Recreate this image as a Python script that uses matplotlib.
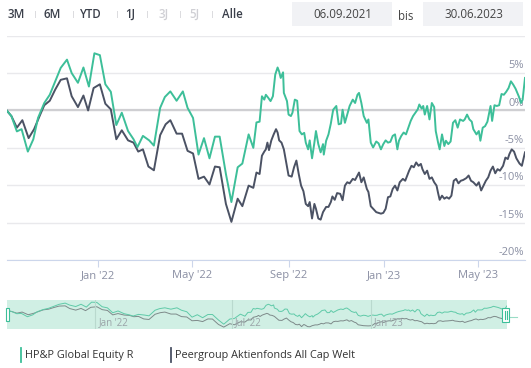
import numpy as np
import pandas as pd
import matplotlib
matplotlib.use("Agg")
import matplotlib.pyplot as plt
import matplotlib.dates as mdates
from matplotlib.patches import Rectangle
from matplotlib.lines import Line2D
from matplotlib.transforms import blended_transform_factory

plt.rcParams['font.family'] = ['Open Sans', 'DejaVu Sans']

# ---- data (performance in %, days counted from the start date) ----
start = pd.Timestamp('2021-09-06')
end = pd.Timestamp('2023-06-30')

fund_days = [0, 6, 13, 19, 27, 34, 40, 48, 55, 62, 69, 77, 83, 91, 98, 105, 112, 119, 126, 133,
             140, 147, 155, 162, 167, 174, 182, 188, 196, 202, 209, 217, 225, 231, 238, 245, 252,
             259, 266, 272, 280, 287, 295, 301, 309, 315, 319, 323, 326, 329, 331, 334, 337, 340,
             343, 346, 348, 350, 353, 354, 358, 360, 363, 365, 368, 371, 374, 377, 380, 382, 385,
             387, 390, 393, 395, 398, 401, 404, 405, 408, 411, 414, 417, 421, 424, 427, 429, 432,
             435, 438, 442, 445, 448, 450, 453, 456, 460, 462, 465, 468, 472, 475, 478, 481, 484,
             487, 490, 493, 496, 499, 501, 504, 507, 510, 513, 516, 519, 522, 525, 527, 530, 532,
             534, 537, 540, 543, 546, 548, 551, 553, 556, 559, 561, 564, 567, 570, 573, 576, 579,
             583, 585, 588, 591, 594, 596, 600, 603, 605, 608, 611, 614, 618, 620, 623, 626, 629,
             632, 635, 638, 641, 644, 647, 650, 654, 657, 659, 662]
fund_perf = [0, -0.75, -2.8, -2.5, -5.5, -3.85, -1.0, 1.0, 2.1, 3.9, 5.7, 6.8, 5.0, 3.7, 5.75, 3.2,
             7.65, 7.4, 3.5, 2.5, -1.95, -0.3, -2.75, -3.85, -4.9, -3.4, -4.0, -4.7, 0.35, 1.8,
             2.55, 1.3, 2.55, 0.35, -1.0, -5.9, -3.7, -6.4, -3.5, -3.5, -8.5, -12.25, -7.6, -7.1,
             -3.2, -5.0, -1.6, -1.5, 1.9, 1.45, 2.1, 1.7, 1.25, 1.9, 4.8, 5.75, 5.2, 4.35, 5.1,
             2.35, 1.25, -0.55, -0.75, -0.3, 1.45, 1.3, -2.75, -3.2, -3.0, -4.3, -5.2, -4.0, -6.4,
             -4.3, -2.75, -4.5, -5.6, -4.5, -5.9, -4.05, -3.2, -1.75, 0.1, 0.6, -1.85, -1.75, 0.1,
             -1.65, -0.55, 0.6, 1.45, 1.0, 2.1, 2.35, 1.0, -0.75, -1.65, -1.2, -4.3, -4.95, -4.15,
             -4.4, -5.2, -4.5, -4.0, -4.3, -4.2, -3.4, -3.2, -5.2, -4.05, -3.4, -2.95, -3.2, -2.3,
             -1.4, -0.75, -0.3, 0.15, 0.8, 0.25, 0.6, -0.55, 0.6, -1.2, 1.0, 0.45, -2.75, -4.3,
             -5.2, -3.2, -4.75, -4.05, -4.5, -4.15, -1.65, -1.3, -2.3, -1.2, -1.4, -1.2, -0.55,
             -1.2, -1.5, -2.5, -3.2, -2.75, -4.05, -2.3, -2.1, -1.5, 0.6, -1.4, 0.7, 0.6, 0.7,
             2.2, 2.1, 2.5, 3.0, 3.9, 3.45, 2.9, 1.9, 1.0, 1.45, 4.35]

peer_days = [0, 6, 13, 20, 28, 35, 43, 48, 55, 62, 69, 77, 83, 91, 98, 104, 111, 119, 126, 133,
             140, 147, 155, 162, 168, 174, 181, 188, 196, 203, 209, 217, 224, 231, 238, 245, 252,
             259, 266, 272, 280, 287, 295, 301, 309, 315, 319, 323, 326, 329, 331, 333, 335, 338,
             341, 344, 346, 348, 351, 354, 357, 360, 364, 367, 370, 373, 376, 379, 382, 385, 387,
             390, 393, 395, 398, 401, 404, 408, 411, 414, 416, 419, 422, 426, 429, 432, 435, 438,
             442, 445, 448, 450, 453, 456, 460, 462, 465, 468, 472, 475, 478, 481, 484, 487, 490,
             493, 496, 499, 502, 506, 509, 511, 514, 517, 520, 523, 526, 529, 531, 534, 537, 540,
             543, 546, 549, 551, 553, 556, 559, 562, 565, 568, 571, 574, 577, 580, 583, 587, 590,
             593, 596, 600, 603, 606, 609, 612, 615, 618, 621, 624, 627, 630, 634, 637, 640, 642,
             645, 648, 651, 655, 658, 660, 662]
peer_perf = [0, -0.75, -2.3, -1.3, -3.7, -2.5, -0.5, 0.7, 1.3, 2.8, 4.1, 4.3, 1.9, 0.45, 2.0, 0.0,
             3.0, 3.5, 0.9, 0.15, -3.85, -2.65, -4.0, -4.3, -5.5, -5.2, -7.5, -8.0, -3.3, -1.85,
             -1.3, -3.1, -3.1, -5.4, -5.75, -9.15, -8.85, -9.9, -7.5, -7.6, -12.5, -14.9, -11.8,
             -12.8, -10.05, -10.35, -8.3, -8.5, -6.05, -5.5, -5.2, -4.3, -5.3, -4.0, -3.2, -2.5,
             -2.95, -4.0, -4.3, -5.2, -6.95, -8.7, -8.85, -7.6, -6.7, -8.5, -10.05, -10.8, -12.5,
             -12.8, -12.25, -14.45, -12.5, -13.15, -14.45, -14.6, -13.6, -12.9, -12.9, -12.25,
             -11.5, -11.95, -11.05, -11.15, -12.0, -10.05, -9.6, -9.75, -9.15, -9.3, -8.7, -8.3,
             -9.6, -8.95, -10.5, -10.9, -12.8, -13.15, -13.6, -13.7, -13.8, -13.7, -13.15, -11.6,
             -11.5, -10.5, -10.05, -10.7, -9.6, -9.15, -9.4, -8.85, -8.05, -7.4, -7.6, -6.95,
             -7.4, -7.15, -7.85, -8.5, -8.05, -9.15, -8.95, -9.6, -10.05, -11.05, -11.95, -11.4,
             -11.8, -11.6, -11.8, -11.4, -9.4, -9.15, -9.75, -9.4, -9.3, -9.05, -8.7, -9.4, -9.6,
             -10.05, -9.6, -10.7, -10.05, -9.4, -8.95, -8.05, -7.5, -8.4, -7.85, -8.05, -7.4,
             -6.3, -6.5, -5.85, -5.2, -5.5, -6.4, -7.1, -7.4, -6.5, -5.6]

series_names = ['HP&P Global Equity R', 'Peergroup Aktienfonds All Cap Welt']
y_ticks = [-20, -15, -10, -5, 0, 5, 10]
y_labels = ['-20%', '-15%', '-10%', '-5%', '0%', '5%', '']
x_ticks = ['2022-01-01', '2022-05-01', '2022-09-01', '2023-01-01', '2023-05-01']
x_labels = ["Jan '22", "May '22", "Sep '22", "Jan '23", "May '23"]
nav_ticks = ['2022-01-01', '2022-07-01', '2023-01-01']
nav_labels = ["Jan '22", "Jul '22", "Jan '23"]
buttons = ['3M', '6M', 'YTD', '1J', '3J', '5J', 'Alle']
disabled = ['3J', '5J']
date_from = '06.09.2021'
date_to = '30.06.2023'

GREEN = '#3dbf99'
DARK = '#4b5264'
W, H = 531, 368

fund_dates = start + pd.to_timedelta(fund_days, unit='D')
peer_dates = start + pd.to_timedelta(peer_days, unit='D')


def fx(px):
    return px / W


def fy(py):
    return 1 - py / H


fig = plt.figure(figsize=(W / 100, H / 100), dpi=100)

# ---- main chart ----
ax = fig.add_axes([fx(6.7), fy(260), fx(525) - fx(6.7), fy(35.7) - fy(260)])
ax.plot(peer_dates, peer_perf, color=DARK, lw=1.4, zorder=3)
ax.plot(fund_dates, fund_perf, color=GREEN, lw=1.4, zorder=4)
ax.set_xlim(start, end)
ax.set_ylim(-20, 10)
ax.set_yticks(y_ticks)
ax.grid(axis='y', color='#e9e9ec', lw=1)
ax.axhline(0, color='#cfcfd2', lw=1.6, zorder=2)
ax.tick_params(axis='y', left=False, labelleft=False)
for s in ['top', 'left', 'right']:
    ax.spines[s].set_visible(False)
ax.spines['bottom'].set_color('#ccd6eb')
ax.set_xticks(pd.to_datetime(x_ticks))
ax.set_xticklabels(x_labels)
ax.tick_params(axis='x', length=5, color='#ccd6eb', labelsize=8, labelcolor='#8a8fa3', pad=2.5)
tr = blended_transform_factory(ax.transAxes, ax.transData)
for v, lab in zip(y_ticks, y_labels):
    ax.text(0.998, v + 0.25, lab, transform=tr, ha='right', va='bottom',
            fontsize=8, color='#8a8fa3')

# ---- navigator ----
nav = fig.add_axes([fx(7), fy(329), fx(507) - fx(7), fy(300) - fy(329)])
nav.set_facecolor('#d0efe4')
nav.plot(peer_dates, peer_perf, color='#7e8a8a', lw=0.7)
nav.plot(fund_dates, fund_perf, color='#5fcaa8', lw=0.7)
nav.set_xlim(start, end)
nav.set_ylim(-16.6, 9.6)
nav.set_xticks([])
nav.set_yticks([])
for s in nav.spines.values():
    s.set_visible(False)
ntr = blended_transform_factory(nav.transData, nav.transAxes)
for d, lab in zip(pd.to_datetime(nav_ticks), nav_labels):
    nav.axvline(d, color='#b9d9ce', lw=0.8)
    nav.text(mdates.date2num(d) + 4, 0.22, lab, transform=ntr, fontsize=7,
             color='#9aa3a8', ha='left', va='center')

# handles
fig.patches.append(Rectangle((fx(6), fy(321)), fx(3), fy(308) - fy(321), transform=fig.transFigure,
                             facecolor='white', edgecolor=GREEN, lw=0.8, zorder=5))
fig.patches.append(Rectangle((fx(502), fy(322)), fx(7), fy(308) - fy(322), transform=fig.transFigure,
                             facecolor='white', edgecolor=GREEN, lw=0.8, zorder=5))
for px in [504.5, 506.5]:
    fig.lines.append(Line2D([fx(px), fx(px)], [fy(319), fy(311)], transform=fig.transFigure,
                            color=GREEN, lw=0.8, zorder=6))
fig.lines.append(Line2D([fx(510), fx(517)], [fy(317), fy(317)], transform=fig.transFigure,
                        color='#9adcc6', lw=0.8))

# ---- legend ----
for bx, col, name in [(21, GREEN, series_names[0]), (171, DARK, series_names[1])]:
    fig.lines.append(Line2D([fx(bx), fx(bx)], [fy(362), fy(348)], transform=fig.transFigure,
                            color=col, lw=1.3))
    fig.text(fx(bx + 4), fy(355.5), name, fontsize=7.8, color='#333333', ha='left', va='center')

# ---- range selector buttons ----
btn_x = [8, 44, 80, 125, 159, 189, 222]
sep_x = [35, 73, 117, 147, 180, 212]
for bx, b in zip(btn_x, buttons):
    fig.text(fx(bx), fy(14), b, fontsize=8.3, fontweight='semibold', ha='left', va='center',
             color='#cfcfd4' if b in disabled else '#3a3f4a')
for sx in sep_x:
    fig.text(fx(sx), fy(14), '|', fontsize=6, ha='center', va='center', color='#c8c8cc')

# ---- date inputs ----
for x0, x1, txt in [(292, 392, date_from), (423, 523, date_to)]:
    fig.patches.append(Rectangle((fx(x0), fy(26)), fx(x1 - x0), fy(2) - fy(26),
                                 transform=fig.transFigure, facecolor='#f1f2f5', edgecolor='none'))
    fig.text(fx((x0 + x1) / 2 + 1), fy(14), txt, fontsize=8.3, ha='center', va='center',
             color='#444444')
fig.text(fx(406), fy(16.5), 'bis', fontsize=8.3, ha='center', va='center', color='#444444')

fig.savefig('out.png', dpi=100)
